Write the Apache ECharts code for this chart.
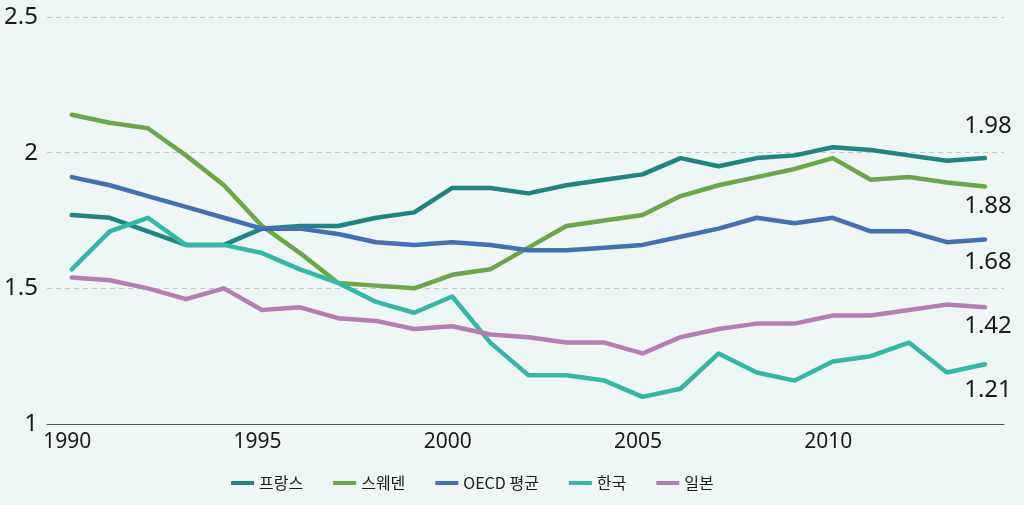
<!DOCTYPE html>
<html>
<head>
<meta charset="utf-8">
<script src="https://cdn.jsdelivr.net/npm/echarts@6/dist/echarts.min.js"></script>
<style>
html,body{margin:0;padding:0;background:#eef6f6;}
#c{width:1024px;height:505px;}
</style>
</head>
<body>
<div id="c"></div>
<script>
var years = [1990,1991,1992,1993,1994,1995,1996,1997,1998,1999,2000,2001,2002,2003,2004,2005,2006,2007,2008,2009,2010,2011,2012,2013,2014];
var seriesNames = ['프랑스','스웨덴','OECD 평균','한국','일본'];
var france = [1.77,1.76,1.71,1.66,1.66,1.72,1.73,1.73,1.76,1.78,1.87,1.87,1.85,1.88,1.90,1.92,1.98,1.95,1.98,1.99,2.02,2.01,1.99,1.97,1.98];
var sweden = [2.14,2.11,2.09,1.99,1.88,1.73,1.63,1.52,1.51,1.50,1.55,1.57,1.65,1.73,1.75,1.77,1.84,1.88,1.91,1.94,1.98,1.90,1.91,1.89,1.875];
var oecd = [1.91,1.88,1.84,1.80,1.76,1.72,1.72,1.70,1.67,1.66,1.67,1.66,1.64,1.64,1.65,1.66,1.69,1.72,1.76,1.74,1.76,1.71,1.71,1.67,1.68];
var korea = [1.57,1.71,1.76,1.66,1.66,1.63,1.57,1.52,1.45,1.41,1.47,1.30,1.18,1.18,1.16,1.10,1.13,1.26,1.19,1.16,1.23,1.25,1.30,1.19,1.22];
var japan = [1.54,1.53,1.50,1.46,1.50,1.42,1.43,1.39,1.38,1.35,1.36,1.33,1.32,1.30,1.30,1.26,1.32,1.35,1.37,1.37,1.40,1.40,1.42,1.44,1.43];
var endLabels = ['1.98','1.88','1.68','1.21','1.42'];
var xTickLabels = [1990,1995,2000,2005,2010];
var yTicks = [1,1.5,2,2.5];

var colors = ['#1e8680','#6aa845','#4170b7','#33b7a7','#b67db3'];
var labelPos = ['top','bottom','bottom','bottom','bottom'];
var labelDist = [20,8,11,14,7];
var allData = [france, sweden, oecd, korea, japan];

var series = allData.map(function(vals, si){
  var data = vals.map(function(v, i){
    var item = {value:[years[i], v]};
    if (i === vals.length - 1) {
      item.label = {show:true, formatter:endLabels[si], position:labelPos[si], distance:labelDist[si], offset:[3,0]};
    }
    return item;
  });
  return {
    name: seriesNames[si],
    type: 'line',
    data: data,
    symbol: 'circle',
    symbolSize: 0,
    showSymbol: true,
    lineStyle: {width: 4.5, color: colors[si], cap:'round', join:'round'},
    itemStyle: {color: colors[si]},
    label: {show:false, fontFamily:'Noto Sans', fontSize:24, lineHeight:24, color:'#1a1a1a'},
    emphasis: {disabled:true}
  };
});

var chart = echarts.init(document.getElementById('c'), null, {renderer:'canvas'});
chart.setOption({
  animation: false,
  backgroundColor: '#eef6f6',
  color: colors,
  grid: {left: 47, right: 20, top: 17, bottom: 81},
  legend: {
    left: 226, top: 470,
    itemWidth: 23, itemHeight: 4, itemGap: 30,
    icon: 'rect',
    textStyle: {fontFamily:'Noto Sans CJK KR', fontSize:16, color:'#1a1a1a'},
    data: seriesNames
  },
  xAxis: {
    type: 'value',
    min: 1989.35, max: 2014.5,
    axisLine: {show:true, lineStyle:{color:'#555555', width:1}},
    axisTick: {show:false},
    splitLine: {show:false},
    axisLabel: {
      customValues: xTickLabels,
      fontFamily:'Noto Sans', fontSize:21, color:'#1a1a1a', margin: 8,
      padding: [0,9,0,0],
      formatter: function(v){ return String(v); }
    }
  },
  yAxis: {
    type: 'value',
    min: yTicks[0], max: yTicks[yTicks.length-1], interval: 0.5,
    axisLine: {show:false},
    axisTick: {show:false},
    splitLine: {show:true, lineStyle:{color:'#c4c8c8', type:[5,4], width:1}},
    axisLabel: {fontFamily:'Noto Sans', fontSize:24, color:'#1a1a1a', margin: 9}
  },
  series: series
});
</script>
</body>
</html>
